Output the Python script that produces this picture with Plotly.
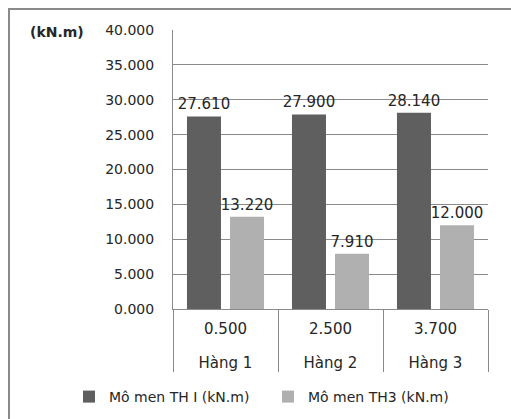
import plotly.graph_objects as go

rows = ["Hàng 1", "Hàng 2", "Hàng 3"]
depths = ["0.500", "2.500", "3.700"]
th1 = [27.61, 27.90, 28.14]
th3 = [13.22, 7.91, 12.00]
name1 = "Mô men TH I (kN.m)"
name3 = "Mô men TH3 (kN.m)"
unit_label = "(kN.m)"

W, H = 511, 419
L, R, T, B = 173, 23, 30, 110
pw, ph = W - L - R, H - T - B

def px_x(x):
    return (x - L) / pw

def px_y(y):
    return 1 - (y - T) / ph

font = "DejaVu Sans"
txt = "#262626"

# inner labels get an empty second line so the outer level sits lower
depth_labels = [d + "<br>&nbsp;" for d in depths]

fig = go.Figure()
for name, vals, col in [(name1, th1, "#5f5f5f"), (name3, th3, "#b0b0b0")]:
    fig.add_trace(go.Bar(
        x=[rows, depth_labels], y=vals, name=name, marker=dict(color=col, line=dict(width=0)),
        texttemplate="%{y:.3f}", textposition="outside", constraintext="none",
        textfont=dict(family=font, size=15, color=txt), cliponaxis=False,
    ))

fig.update_layout(
    width=W, height=H, margin=dict(l=L, r=R, t=T, b=B, autoexpand=False),
    paper_bgcolor="white", plot_bgcolor="white",
    barmode="group", bargap=0.18, bargroupgap=0.21,
    font=dict(family=font, size=14, color=txt),
    showlegend=True,
    legend=dict(orientation="h", xref="paper", x=px_x(69), xanchor="left",
                y=px_y(397), yanchor="middle", font=dict(size=14, color=txt),
                itemwidth=30, entrywidth=154, entrywidthmode="pixels",
                traceorder="normal"),
    yaxis=dict(range=[0, 40], dtick=5, tickformat=".3f", showgrid=True,
               gridcolor="#8a8a8a", gridwidth=1, zeroline=False,
               showline=True, linecolor="#8a8a8a", ticks="", ticklabelstandoff=15,
               tickfont=dict(size=14, color=txt)),
    xaxis=dict(type="multicategory", showline=True, linecolor="#8a8a8a",
               showdividers=True, dividercolor="#8a8a8a", dividerwidth=1,
               ticklabelstandoff=6,
               tickangle=0, tickfont=dict(size=15, color=txt)),
    shapes=[dict(type="rect", xref="paper", yref="paper",
                 x0=px_x(9), x1=px_x(530), y0=px_y(440), y1=px_y(9),
                 line=dict(color="#8a8a8a", width=2), fillcolor="rgba(0,0,0,0)")],
    annotations=[dict(text="<b>" + unit_label + "</b>", xref="paper", yref="paper",
                      x=px_x(28), y=px_y(32), xanchor="left", yanchor="middle",
                      showarrow=False, font=dict(size=14, color=txt))],
)

fig.write_html("out.html")
